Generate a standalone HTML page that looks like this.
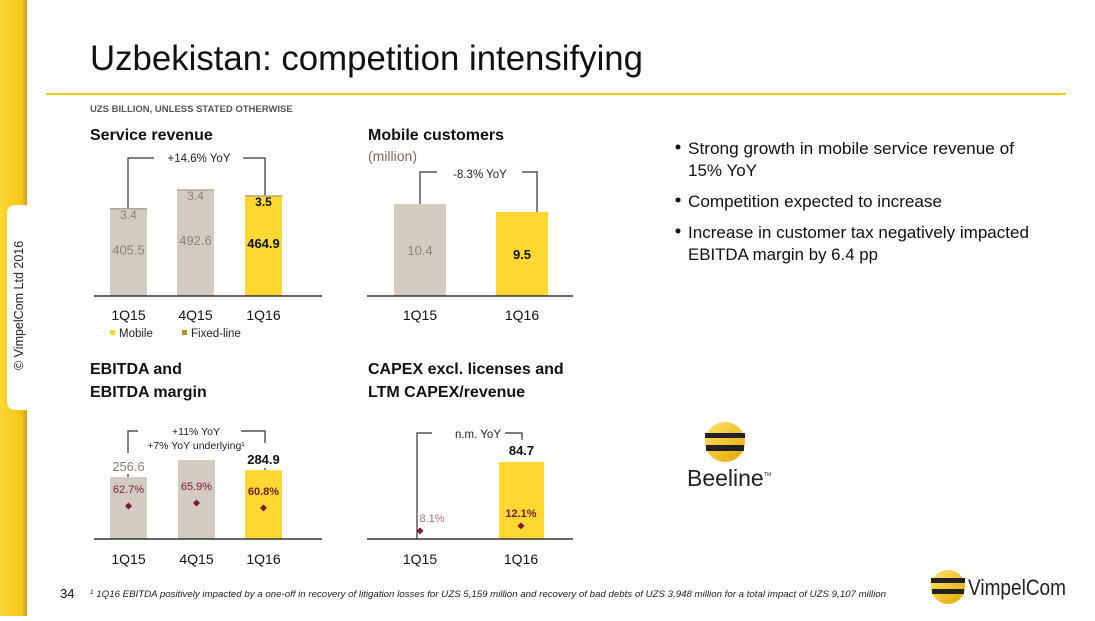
<!DOCTYPE html>
<html><head><meta charset="utf-8">
<style>
body{margin:0;width:1095px;height:616px;overflow:hidden;background:#fff;font-family:"Liberation Sans",sans-serif;}
svg text{font-family:"Liberation Sans",sans-serif;}
</style></head>
<body>
<svg id="s" width="1095" height="616" viewBox="0 0 1095 616" xmlns="http://www.w3.org/2000/svg">
<defs>
<linearGradient id="strip" x1="0" x2="1"><stop offset="0" stop-color="#fdd835"/><stop offset="0.8" stop-color="#f5c518"/><stop offset="1" stop-color="#c9a020"/></linearGradient>
<linearGradient id="ball" x1="0" y1="0" x2="1" y2="1"><stop offset="0" stop-color="#ffe36a"/><stop offset="1" stop-color="#e0a800"/></linearGradient>
</defs>
<rect x="0" y="0" width="27" height="616" fill="url(#strip)"/>
<path d="M16 205 H30 V410 H16 Q7 410 7 401 V214 Q7 205 16 205Z" fill="#fff"/>
<text transform="translate(23,370) rotate(-90)" font-size="12.5" fill="#222">© VimpelCom Ltd 2016</text>
<text x="90" y="70" font-size="35.5" fill="#111" textLength="553" lengthAdjust="spacingAndGlyphs">Uzbekistan: competition intensifying</text>
<rect x="46" y="93" width="1020" height="2" fill="#f2c81a"/>
<text x="90" y="112" font-size="9.5" font-weight="bold" fill="#555">UZS BILLION, UNLESS STATED OTHERWISE</text>

<text x="90" y="140" font-size="16" font-weight="bold" fill="#111">Service revenue</text>
<text x="368" y="140" font-size="16" font-weight="bold" fill="#111">Mobile customers</text>
<text x="368" y="161" font-size="14" fill="#7a6a60">(million)</text>
<text x="90" y="374" font-size="16" font-weight="bold" fill="#111">EBITDA and</text>
<text x="90" y="397" font-size="16" font-weight="bold" fill="#111">EBITDA margin</text>
<text x="368" y="374" font-size="16" font-weight="bold" fill="#111">CAPEX excl. licenses and</text>
<text x="368" y="397" font-size="16" font-weight="bold" fill="#111">LTM CAPEX/revenue</text>

<g id="charts"></g>

<g font-size="17" fill="#111">
<circle cx="678" cy="147" r="2.5" fill="#111"/><text x="688" y="154" textLength="326" lengthAdjust="spacingAndGlyphs">Strong growth in mobile service revenue of</text><text x="688" y="176">15% YoY</text>
<circle cx="678" cy="200" r="2.5" fill="#111"/><text x="688" y="207" textLength="254" lengthAdjust="spacingAndGlyphs">Competition expected to increase</text>
<circle cx="678" cy="231" r="2.5" fill="#111"/><text x="688" y="238" textLength="341" lengthAdjust="spacingAndGlyphs">Increase in customer tax negatively impacted</text><text x="688" y="260" textLength="190" lengthAdjust="spacingAndGlyphs">EBITDA margin by 6.4 pp</text>
</g>

<g>
<circle cx="725" cy="442" r="20" fill="url(#ball)"/>
<rect x="705" y="433" width="40" height="5" fill="#222"/><rect x="706" y="445" width="38" height="6" fill="#222"/>
<text x="687" y="486" font-size="23" fill="#222">Beeline</text><text x="764" y="476" font-size="5" fill="#222">TM</text>
</g>
<g>
<circle cx="948" cy="587" r="17" fill="url(#ball)"/>
<rect x="931" y="578" width="34" height="5" fill="#222"/><rect x="932" y="589" width="32" height="5" fill="#222"/>
<text x="968" y="595" font-size="22" fill="#222" textLength="98" lengthAdjust="spacingAndGlyphs">VimpelCom</text>
</g>
<text x="60" y="598" font-size="13" fill="#111">34</text>
<text x="90" y="597" font-size="9" font-style="italic" fill="#222" textLength="796" lengthAdjust="spacingAndGlyphs"><tspan font-size="6" dy="-3">1</tspan><tspan dy="3"> 1Q16 EBITDA positively impacted by a one-off in recovery of litigation losses for UZS 5,159 million and recovery of bad debts of UZS 3,948 million for a total impact of UZS 9,107 million</tspan></text>
</svg>
<script>
// Service revenue
const srCats=["1Q15","4Q15","1Q16"];
const srMobile=[405.5,492.6,464.9];
const srFixed=[3.4,3.4,3.5];
// Mobile customers
const mcCats=["1Q15","1Q16"];
const mcValues=[10.4,9.5];
// EBITDA
const ebCats=["1Q15","4Q15","1Q16"];
const ebValues=[256.6,327,284.9];
const ebLabels=["256.6","","284.9"];
const ebMargin=[62.7,65.9,60.8];
// CAPEX
const cxCats=["1Q15","1Q16"];
const cxValues=[0,84.7];
const cxLabels=["","84.7"];
const cxRatio=[8.1,12.1];

const NS="http://www.w3.org/2000/svg";
const G=document.getElementById('charts');
function mk(tag,a,txt){const e=document.createElementNS(NS,tag);for(const k in a)e.setAttribute(k,a[k]);if(txt!==undefined)e.textContent=txt;G.appendChild(e);return e;}
const GREY="#d3cbbf",YEL="#fdd832",GT="#8c8078",MAR="#7a1a34";

// Service revenue chart
(function(){
 const base=296,k=0.215,xs=[110,177,245],w=37;
 const y=v=>base-v*k;
 srCats.forEach((c,i)=>{
  const col=i==2?YEL:GREY, tc=i==2?"#111":GT, fw=i==2?"bold":"normal";
  const r=mk('rect',{x:xs[i],y:y(srMobile[i]),width:w,height:base-y(srMobile[i]),fill:col});
  
  const f=mk('rect',{x:xs[i],y:y(srMobile[i]+srFixed[i]),width:w,height:srFixed[i]*k+0.5,fill:"#a89a84"});
  
  const tm=mk('text',{x:xs[i]+w/2,y:(y(srMobile[i])+base)/2+2,'font-size':13,fill:tc,'font-weight':fw,'text-anchor':'middle'},srMobile[i].toFixed(1));
  
  const tf=mk('text',{x:xs[i]+w/2,y:y(srMobile[i])+10,'font-size':12,fill:tc,'font-weight':fw,'text-anchor':'middle'},srFixed[i].toFixed(1));
  
  const tx=mk('text',{x:xs[i]+w/2,y:320,'font-size':14,fill:"#111",'text-anchor':'middle'},c);
  
 });
 const ax=mk('line',{x1:94,x2:322,y1:base,y2:base,stroke:"#333",'stroke-width':1.5});
 
 const bt=y(srMobile[0]+srFixed[0]);
 const br=mk('path',{d:`M128 ${bt} V158 H154 M243 158 H265 V${y(srMobile[2]+srFixed[2])}`,fill:'none',stroke:"#333",'stroke-width':1.2});
 
 const yl=mk('text',{x:199,y:162,'font-size':11.5,fill:"#222",'text-anchor':'middle'},"+14.6% YoY");
 
 const l1=mk('rect',{x:110,y:330,width:5,height:5,fill:YEL});
 const l2=mk('text',{x:119,y:337,'font-size':11.5,fill:"#222"},"Mobile");
 const l3=mk('rect',{x:182,y:330,width:5,height:5,fill:"#b8901e"});
 const l4=mk('text',{x:191,y:337,'font-size':11.5,fill:"#222"},"Fixed-line");
})();

// Mobile customers
(function(){
 const base=296,k=8.85,xs=[394,496],w=52;
 const y=v=>base-v*k;
 mcCats.forEach((c,i)=>{
  const col=i==1?YEL:GREY,tc=i==1?"#111":GT,fw=i==1?"bold":"normal";
  const r=mk('rect',{x:xs[i],y:y(mcValues[i]),width:w,height:base-y(mcValues[i]),fill:col});
  
  const t=mk('text',{x:xs[i]+w/2,y:(y(mcValues[i])+base)/2+5,'font-size':13,fill:tc,'font-weight':fw,'text-anchor':'middle'},mcValues[i].toFixed(1));
  
  const tx=mk('text',{x:xs[i]+w/2,y:320,'font-size':14,fill:"#111",'text-anchor':'middle'},c);
  
 });
 const ax=mk('line',{x1:367,x2:573,y1:base,y2:base,stroke:"#333",'stroke-width':1.5});
 
 const br=mk('path',{d:`M420 ${y(mcValues[0])} V172 H437 M522 172 H537 V${y(mcValues[1])}`,fill:'none',stroke:"#333",'stroke-width':1.2});
 
 const yl=mk('text',{x:480,y:178,'font-size':11.5,fill:"#222",'text-anchor':'middle'},"-8.3% YoY");
 
})();

// EBITDA
(function(){
 const base=539,k=0.2416,xs=[110,178,245],w=37;
 const y=v=>base-v*k;
 const ym=m=>565-m*0.94;
 ebCats.forEach((c,i)=>{
  const col=i==2?YEL:GREY;
  const r=mk('rect',{x:xs[i],y:y(ebValues[i]),width:w,height:base-y(ebValues[i]),fill:col});
  
  if(ebLabels[i]){const t=mk('text',{x:xs[i]+w/2,y:y(ebValues[i])-6,'font-size':13,fill:i==2?"#111":GT,'font-weight':i==2?"bold":"normal",'text-anchor':'middle'},ebLabels[i]);
  }
  const cx=xs[i]+w/2,cy=ym(ebMargin[i]);
  const d=mk('path',{d:`M${cx} ${cy-3.5} L${cx+3.5} ${cy} L${cx} ${cy+3.5} L${cx-3.5} ${cy}Z`,fill:MAR});
  
  const mt=mk('text',{x:cx,y:cy-13,'font-size':11,fill:MAR,'font-weight':i==2?"bold":"normal",'text-anchor':'middle'},ebMargin[i].toFixed(1)+"%");
  
  const tx=mk('text',{x:xs[i]+w/2,y:564,'font-size':14,fill:"#111",'text-anchor':'middle'},c);
  
 });
 const ax=mk('line',{x1:94,x2:322,y1:base,y2:base,stroke:"#333",'stroke-width':1.5});
 
 const br=mk('path',{d:`M128 453 V431 H138 M241 431 H265 V443 M128 474 V477 M265 468 V470`,fill:'none',stroke:"#333",'stroke-width':1.2});
 
 const y1=mk('text',{x:196,y:435,'font-size':10.5,fill:"#222",'text-anchor':'middle'},"+11% YoY");
 
 const y2=mk('text',{x:196,y:449,'font-size':10.5,fill:"#222",'text-anchor':'middle'},"+7% YoY underlying¹");
 
})();

// CAPEX
(function(){
 const base=539,k=0.91,xs=[394,499],w=45;
 const y=v=>base-v*k;
 const yr=p=>541-p*1.25;
 const px=[420,521];
 cxCats.forEach((c,i)=>{
  if(cxValues[i]>0){const r=mk('rect',{x:xs[i],y:y(cxValues[i]),width:w,height:base-y(cxValues[i]),fill:YEL});
  }
  if(cxLabels[i]){const t=mk('text',{x:xs[i]+w/2,y:y(cxValues[i])-7,'font-size':13,fill:"#111",'font-weight':"bold",'text-anchor':'middle'},cxLabels[i]);
  }
  const cx=px[i],cy=yr(cxRatio[i]);
  const d=mk('path',{d:`M${cx} ${cy-3.5} L${cx+3.5} ${cy} L${cx} ${cy+3.5} L${cx-3.5} ${cy}Z`,fill:MAR});
  
  const mt=mk('text',{x:i==0?cx+12:cx,y:cy-9,'font-size':11,fill:i==0?"#b06a88":MAR,'font-weight':i==1?"bold":"normal",'text-anchor':'middle'},cxRatio[i].toFixed(1)+"%");
  
  const tx=mk('text',{x:i==0?420:521,y:564,'font-size':14,fill:"#111",'text-anchor':'middle'},c);
  
 });
 const ax=mk('line',{x1:367,x2:573,y1:base,y2:base,stroke:"#333",'stroke-width':1.5});
 
 const br=mk('path',{d:`M417 ${base} V433 H432 M505 433 H522 V440`,fill:'none',stroke:"#333",'stroke-width':1.2});
 
 const yl=mk('text',{x:478,y:438,'font-size':11.5,fill:"#222",'text-anchor':'middle'},"n.m. YoY");
 
})();
</script>
</body></html>
